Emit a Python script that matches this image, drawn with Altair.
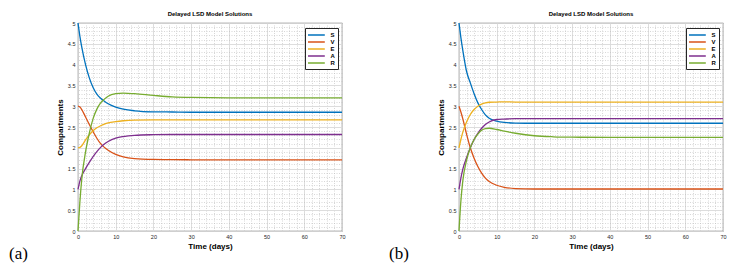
import altair as alt
import pandas as pd

# ---- data ----
series = ["S", "V", "E", "A", "R"]
colors = ["#0072BD", "#D95319", "#EDB120", "#7E2F8E", "#77AC30"]

t = [0, 0.5, 1, 2, 3, 4, 5, 6, 7, 8, 10, 12, 15, 20, 25, 30, 40, 50, 60, 70]

# panel (a)
S_a = [5.0, 4.68, 4.42, 4.00, 3.68, 3.45, 3.29, 3.19, 3.12, 3.06, 2.98, 2.93, 2.89, 2.865, 2.86, 2.855, 2.855, 2.855, 2.855, 2.855]
V_a = [3.0, 2.98, 2.92, 2.74, 2.56, 2.39, 2.23, 2.10, 2.01, 1.94, 1.84, 1.78, 1.74, 1.72, 1.715, 1.712, 1.712, 1.712, 1.712, 1.712]
E_a = [2.0, 2.01, 2.05, 2.19, 2.31, 2.41, 2.48, 2.53, 2.57, 2.60, 2.63, 2.65, 2.665, 2.67, 2.67, 2.67, 2.67, 2.67, 2.67, 2.67]
A_a = [1.0, 1.20, 1.33, 1.50, 1.65, 1.79, 1.91, 2.01, 2.09, 2.15, 2.23, 2.27, 2.30, 2.315, 2.32, 2.32, 2.32, 2.32, 2.32, 2.32]
R_a = [0.0, 0.70, 1.25, 1.90, 2.35, 2.70, 2.93, 3.08, 3.17, 3.24, 3.30, 3.315, 3.30, 3.26, 3.225, 3.21, 3.20, 3.20, 3.20, 3.20]

# panel (b)
S_b = [5.0, 4.65, 4.35, 3.84, 3.56, 3.30, 3.08, 2.92, 2.79, 2.71, 2.64, 2.61, 2.595, 2.59, 2.59, 2.59, 2.59, 2.59, 2.59, 2.59]
V_b = [3.0, 2.86, 2.70, 2.33, 2.00, 1.75, 1.55, 1.39, 1.27, 1.19, 1.10, 1.05, 1.02, 1.01, 1.01, 1.01, 1.01, 1.01, 1.01, 1.01]
E_b = [2.0, 2.20, 2.37, 2.62, 2.80, 2.92, 3.00, 3.05, 3.08, 3.095, 3.10, 3.105, 3.10, 3.10, 3.10, 3.10, 3.10, 3.10, 3.10, 3.10]
A_b = [1.0, 1.27, 1.48, 1.76, 2.00, 2.20, 2.35, 2.47, 2.56, 2.62, 2.68, 2.69, 2.70, 2.70, 2.70, 2.70, 2.70, 2.70, 2.70, 2.70]
R_b = [0.0, 0.72, 1.20, 1.70, 2.00, 2.20, 2.33, 2.42, 2.46, 2.47, 2.44, 2.40, 2.35, 2.29, 2.265, 2.255, 2.25, 2.25, 2.25, 2.25]

x_major = [0, 10, 20, 30, 40, 50, 60, 70]
y_major = [0, 0.5, 1, 1.5, 2, 2.5, 3, 3.5, 4, 4.5, 5]
x_minor = [v for v in range(0, 71, 2) if v % 10 != 0]
y_minor = [round(i * 0.1, 1) for i in range(51) if i % 5 != 0]

title_text = "Delayed LSD Model Solutions"
panel_labels = ["(a)", "(b)"]

W, H = 264, 208
FONT = "Liberation Sans"


def long_df(arrs):
    rows = []
    for name, vals in zip(series, arrs):
        for ti, v in zip(t, vals):
            rows.append({"t": ti, "v": v, "s": name})
    return pd.DataFrame(rows)


def panel(arrs, label, k):
    df = long_df(arrs)
    base = alt.Chart(df)
    xs = alt.Scale(domain=[0, 70], nice=False)
    ys = alt.Scale(domain=[0, 5], nice=False)
    minor = base.mark_line(opacity=0).encode(
        x=alt.X("t:Q", scale=xs, axis=alt.Axis(orient="top", values=x_minor, grid=True,
                                                gridDash=[1, 1.5], gridColor="#bdbdbd", gridWidth=0.6,
                                                labels=False, ticks=False, domain=False, title=None)),
        y=alt.Y("v:Q", scale=ys, axis=alt.Axis(orient="right", values=y_minor, grid=True,
                                                gridDash=[1, 1.5], gridColor="#bdbdbd", gridWidth=0.6,
                                                labels=False, ticks=False, domain=False, title=None)),
        detail="s:N",
    )
    lines = base.mark_line(strokeWidth=1.3, interpolate="monotone").encode(
        x=alt.X("t:Q", scale=xs, axis=alt.Axis(values=x_major, title="Time (days)", grid=True,
                                                gridColor="#d9d9d9", gridWidth=0.9, ticks=False,
                                                domain=False, labelFlush=False, labelOverlap=False,
                                                labelPadding=3, titlePadding=3, format=".2~f")),
        y=alt.Y("v:Q", scale=ys, axis=alt.Axis(values=y_major, title="Compartments", grid=True,
                                                gridColor="#d9d9d9", gridWidth=0.9, ticks=False,
                                                domain=False, labelFlush=False, labelOverlap=False,
                                                labelPadding=3, titlePadding=3, format=".2~f")),
        color=alt.Color("s:N", scale=alt.Scale(domain=series, range=colors),
                        legend=alt.Legend(title=None, orient="top-right", offset=4.5,
                                          symbolType="M-2.8,0H2.8", symbolSize=36,
                                          symbolStrokeWidth=1.5, symbolOffset=4.4,
                                          labelOffset=10, labelFontSize=6, labelFontWeight="bold",
                                          labelFont=FONT, labelColor="#000000",
                                          rowPadding=0, padding=3,
                                          strokeColor="#262626", fillColor="white")),
    )
    lab = alt.Chart(alt.Data(values=[{"lab": label}])).mark_text(
        align="left", baseline="middle", font="Liberation Serif", fontSize=17, color="#000000"
    ).encode(x=alt.value(-k), y=alt.value(H + 23), text="lab:N")
    return alt.layer(minor, lines, lab).resolve_axis(x="independent", y="independent").properties(
        width=W, height=H,
        title=alt.TitleParams(title_text, fontSize=6, fontWeight="bold", font=FONT, offset=3,
                              anchor="middle", color="#000000"),
    )


pa = panel([S_a, V_a, E_a, A_a, R_a], panel_labels[0], 69)
pb = panel([S_b, V_b, E_b, A_b, R_b], panel_labels[1], 70)

chart = alt.hconcat(pa, pb, spacing=42).resolve_scale(color="independent").resolve_legend(
    color="independent"
).properties(
    padding={"left": 0, "top": 3, "right": 0, "bottom": 0}
).configure_view(stroke="#262626", strokeWidth=0.8).configure_axis(
    labelFont=FONT, labelFontSize=5.5, labelColor="#262626",
    titleFont=FONT, titleFontSize=8, titleFontWeight="bold", titleColor="#000000",
)

chart.save("out.html", embed_options={"renderer": "svg", "actions": False})
